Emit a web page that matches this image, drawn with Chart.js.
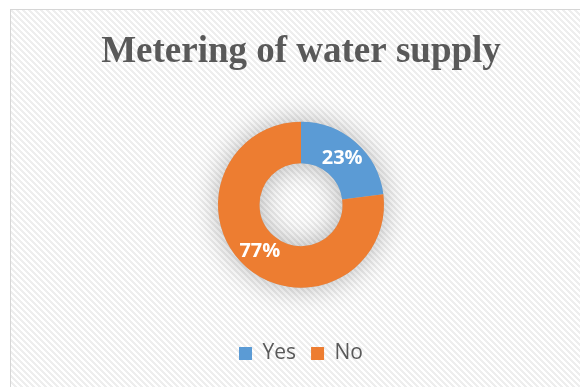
<!DOCTYPE html>
<html>
<head>
<meta charset="utf-8">
<title>Metering of water supply</title>
<script src="https://cdn.jsdelivr.net/npm/chart.js@4.4.1/dist/chart.umd.min.js"></script>
<style>
  html, body { margin: 0; padding: 0; background: #fff; }
  /* hatched chart frame, runs off the right and bottom edges;
     stripe period is 3*sqrt(2) so the pattern lands on whole pixels */
  #frame {
    position: absolute; left: 10px; top: 9px; width: 600px; height: 400px;
    border-top: 1px solid #d6d6d6; border-left: 1px solid #d6d6d6;
    background: repeating-linear-gradient(45deg, #ffffff 0 2.1213px, #eeeeee 2.1213px 4.2426px);
  }
  #wrap { position: absolute; left: 0; top: 0; width: 580px; height: 387px; }
</style>
</head>
<body>
<div id="frame"></div>
<div id="wrap"><canvas id="meterChart"></canvas></div>
<script>
const labels = ["Yes", "No"];
const shares = [23, 77];
const sliceColors = ["#5B9BD5", "#ED7D31"];

// soft drop shadow under the whole ring (drawn once so slices don't shade each other)
const ringShadow = {
  id: 'ringShadow',
  beforeDatasetsDraw(chart) {
    const arc = chart.getDatasetMeta(0).data[0];
    if (!arc) return;
    const {x, y, outerRadius, innerRadius} = arc.getProps(['x', 'y', 'outerRadius', 'innerRadius'], true);
    const ctx = chart.ctx;
    ctx.save();
    ctx.shadowColor = 'rgba(0,0,0,0.28)';
    ctx.shadowBlur = 28;
    ctx.fillStyle = '#bbbbbb';
    ctx.beginPath();
    ctx.arc(x, y, outerRadius, 0, Math.PI * 2);
    ctx.arc(x, y, innerRadius, 0, Math.PI * 2, true);
    ctx.fill();
    ctx.restore();
  }
};

// percentage text in the middle of each slice
const sliceLabels = {
  id: 'sliceLabels',
  afterDatasetsDraw(chart) {
    const ctx = chart.ctx;
    ctx.save();
    ctx.font = 'bold 20px "Open Sans"';
    ctx.fillStyle = '#ffffff';
    ctx.textAlign = 'center';
    ctx.textBaseline = 'middle';
    chart.getDatasetMeta(0).data.forEach((arc, i) => {
      const p = arc.tooltipPosition();
      ctx.fillText(shares[i] + '%', p.x, p.y);
    });
    ctx.restore();
  }
};

Chart.defaults.font.family = '"Open Sans", sans-serif';

const ctx = document.getElementById('meterChart').getContext('2d');
window.meterChart = new Chart(ctx, {
  type: 'doughnut',
  data: {
    labels: labels,
    datasets: [{
      data: shares,
      backgroundColor: sliceColors,
      borderWidth: 0,
      radius: 83,
      cutout: '50%'
    }]
  },
  options: {
    responsive: true,
    maintainAspectRatio: false,
    animation: false,
    layout: { padding: { top: 30, left: 22, right: 0, bottom: 13 } },
    plugins: {
      title: {
        display: true,
        text: 'Metering of water supply',
        color: '#595959',
        font: { family: '"Liberation Serif", "Times New Roman", serif', size: 37, weight: 'bold', lineHeight: 1.2 },
        padding: { top: 0, bottom: 7 }
      },
      legend: {
        position: 'bottom',
        labels: {
          color: '#595959',
          boxWidth: 13,
          boxHeight: 13,
          padding: 15,
          font: { size: 21 }
        }
      },
      tooltip: { enabled: false }
    }
  },
  plugins: [ringShadow, sliceLabels]
});
</script>
</body>
</html>
